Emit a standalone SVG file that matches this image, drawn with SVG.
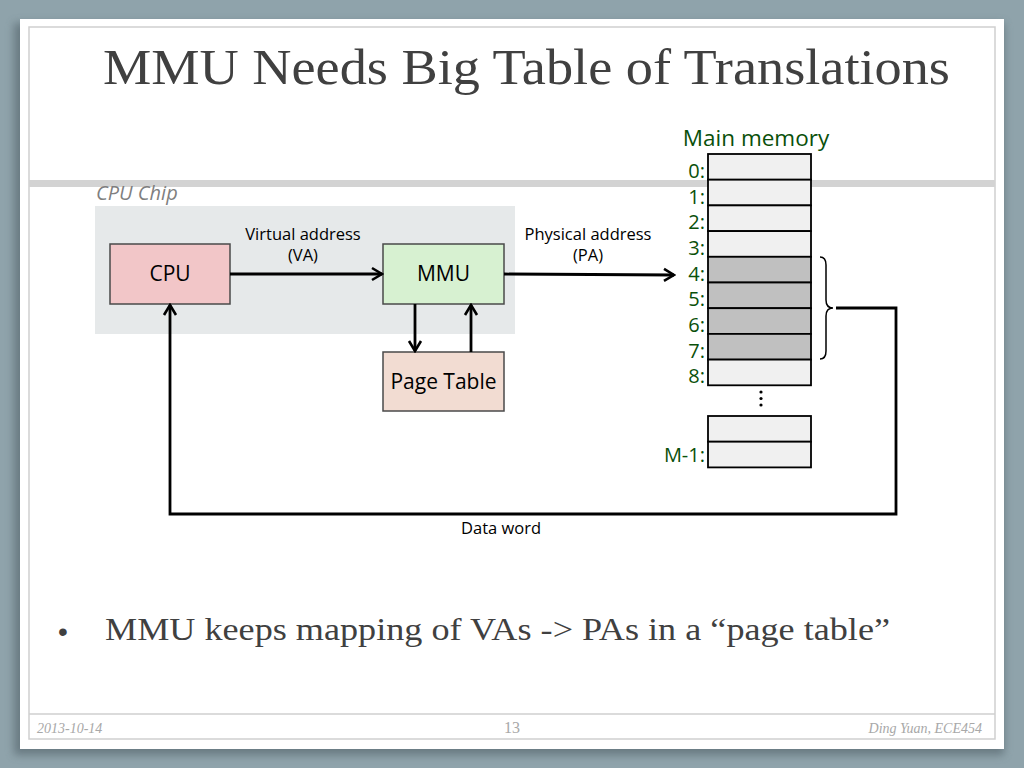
<svg xmlns="http://www.w3.org/2000/svg" width="1024" height="768" viewBox="0 0 1024 768">
<defs>
<marker id="arr" markerUnits="userSpaceOnUse" markerWidth="16" markerHeight="16" viewBox="0 0 16 16" refX="14" refY="8" orient="auto">
<path d="M4,2 L14,8 L4,14" fill="none" stroke="#000" stroke-width="2.6"/>
</marker>
<filter id="sh" x="-5%" y="-5%" width="110%" height="110%"><feGaussianBlur stdDeviation="4"/></filter>
</defs>
<style>
.lbl{font-family:"Open Sans","Liberation Sans",sans-serif;font-size:16.5px;fill:#000;text-anchor:middle}
.box{stroke:#4a4a4a;stroke-width:1.5}
.bt{font-family:"Open Sans","Liberation Sans",sans-serif;font-size:21px;fill:#000;text-anchor:middle}
.cell{fill:#f0f0f0;stroke:#000;stroke-width:1.8}
.dark{fill:#c0c0c0}
.ml{font-family:"Open Sans","Liberation Sans",sans-serif;font-size:20px;fill:#0a500a;text-anchor:end}
.conn{fill:none;stroke:#000;stroke-width:2.8}
.foot{font-family:"Liberation Serif",serif;font-style:italic;font-size:14px;fill:#a8a8a8}
</style>
<rect width="1024" height="768" fill="#8fa3ab"/>
<rect x="14" y="23" width="990" height="732" fill="#4f5f66" opacity="0.6" filter="url(#sh)"/>
<rect x="20" y="19" width="984" height="730" fill="#ffffff"/>
<rect x="29" y="27" width="966" height="712" fill="none" stroke="#cfcfcf" stroke-width="1.5"/>
<line x1="29" y1="714" x2="995" y2="714" stroke="#cfcfcf" stroke-width="1.5"/>
<rect x="29" y="180" width="966" height="7" fill="#d3d3d3"/>

<text x="103" y="84" font-family="Liberation Serif,serif" font-size="50" fill="#404040" textLength="847" lengthAdjust="spacingAndGlyphs">MMU Needs Big Table of Translations</text>

<g id="chip">
<rect x="95" y="206" width="420" height="128" fill="#e6e9ea"/>
<text x="96" y="200" font-family="Open Sans,Liberation Sans,sans-serif" font-style="italic" font-size="20" fill="#7f7f7f">CPU Chip</text>
</g>
<g id="cpu"><rect class="box" x="110" y="244" width="120" height="60" fill="#f2c6c8"/><text class="bt" x="170" y="281">CPU</text></g>
<g id="mmu"><rect class="box" x="383" y="244" width="121" height="60" fill="#d7f1d1"/><text class="bt" x="443.5" y="281">MMU</text></g>
<g id="pagetable"><rect class="box" x="383" y="352" width="121" height="59" fill="#f2dcd2"/><text class="bt" x="443.5" y="389">Page Table</text></g>

<g id="memory">
<text x="756" y="146" font-family="Open Sans,Liberation Sans,sans-serif" font-size="22.5" fill="#0a500a" text-anchor="middle">Main memory</text>
<rect class="cell" x="708" y="154" width="103" height="25.7"/>
<rect class="cell" x="708" y="179.7" width="103" height="25.7"/>
<rect class="cell" x="708" y="205.4" width="103" height="25.7"/>
<rect class="cell" x="708" y="231.1" width="103" height="25.7"/>
<rect class="cell dark" x="708" y="256.8" width="103" height="25.7"/>
<rect class="cell dark" x="708" y="282.5" width="103" height="25.7"/>
<rect class="cell dark" x="708" y="308.2" width="103" height="25.7"/>
<rect class="cell dark" x="708" y="333.9" width="103" height="25.7"/>
<rect class="cell" x="708" y="359.6" width="103" height="25.7"/>
<rect class="cell" x="708" y="416" width="103" height="25.7"/>
<rect class="cell" x="708" y="441.7" width="103" height="25.7"/>
<text class="ml" x="705" y="178">0:</text>
<text class="ml" x="705" y="204">1:</text>
<text class="ml" x="705" y="229">2:</text>
<text class="ml" x="705" y="255">3:</text>
<text class="ml" x="705" y="281">4:</text>
<text class="ml" x="705" y="306">5:</text>
<text class="ml" x="705" y="332">6:</text>
<text class="ml" x="705" y="358">7:</text>
<text class="ml" x="705" y="383">8:</text>
<text class="ml" x="705" y="462" font-size="21">M-1:</text>
<circle cx="761" cy="392" r="1.6" fill="#000"/>
<circle cx="761" cy="398.5" r="1.6" fill="#000"/>
<circle cx="761" cy="405" r="1.6" fill="#000"/>
<path d="M820,257 Q826,257 826,265 L826,300 Q826,308 833,308 Q826,308 826,316 L826,351 Q826,359 820,359" fill="none" stroke="#000" stroke-width="1.5"/>
</g>

<g id="connectors">
<line class="conn" x1="230" y1="274" x2="382" y2="274" marker-end="url(#arr)"/>
<line class="conn" x1="504" y1="274" x2="674" y2="275" marker-end="url(#arr)"/>
<line class="conn" x1="415" y1="304" x2="415" y2="351" marker-end="url(#arr)"/>
<line class="conn" x1="471" y1="352" x2="471" y2="305" marker-end="url(#arr)"/>
<path class="conn" d="M836,308 L896,308 L896,514 L170,514 L170,305" marker-end="url(#arr)"/>
<text class="lbl" x="303" y="240">Virtual address</text>
<text class="lbl" x="303" y="261">(VA)</text>
<text class="lbl" x="588" y="240">Physical address</text>
<text class="lbl" x="588" y="261">(PA)</text>
<text class="lbl" x="501" y="534">Data word</text>
</g>

<text x="58" y="641" font-family="Liberation Sans,sans-serif" font-size="28" fill="#404040">•</text>
<text x="105" y="640" font-family="Liberation Serif,serif" font-size="32" fill="#404040" textLength="785" lengthAdjust="spacingAndGlyphs">MMU keeps mapping of VAs -&gt; PAs in a “page table”</text>

<text class="foot" x="37" y="733">2013-10-14</text>
<text x="512" y="733" font-family="Liberation Serif,serif" font-size="16" fill="#a8a8a8" text-anchor="middle">13</text>
<text class="foot" x="982" y="733" text-anchor="end">Ding Yuan, ECE454</text>
</svg>
